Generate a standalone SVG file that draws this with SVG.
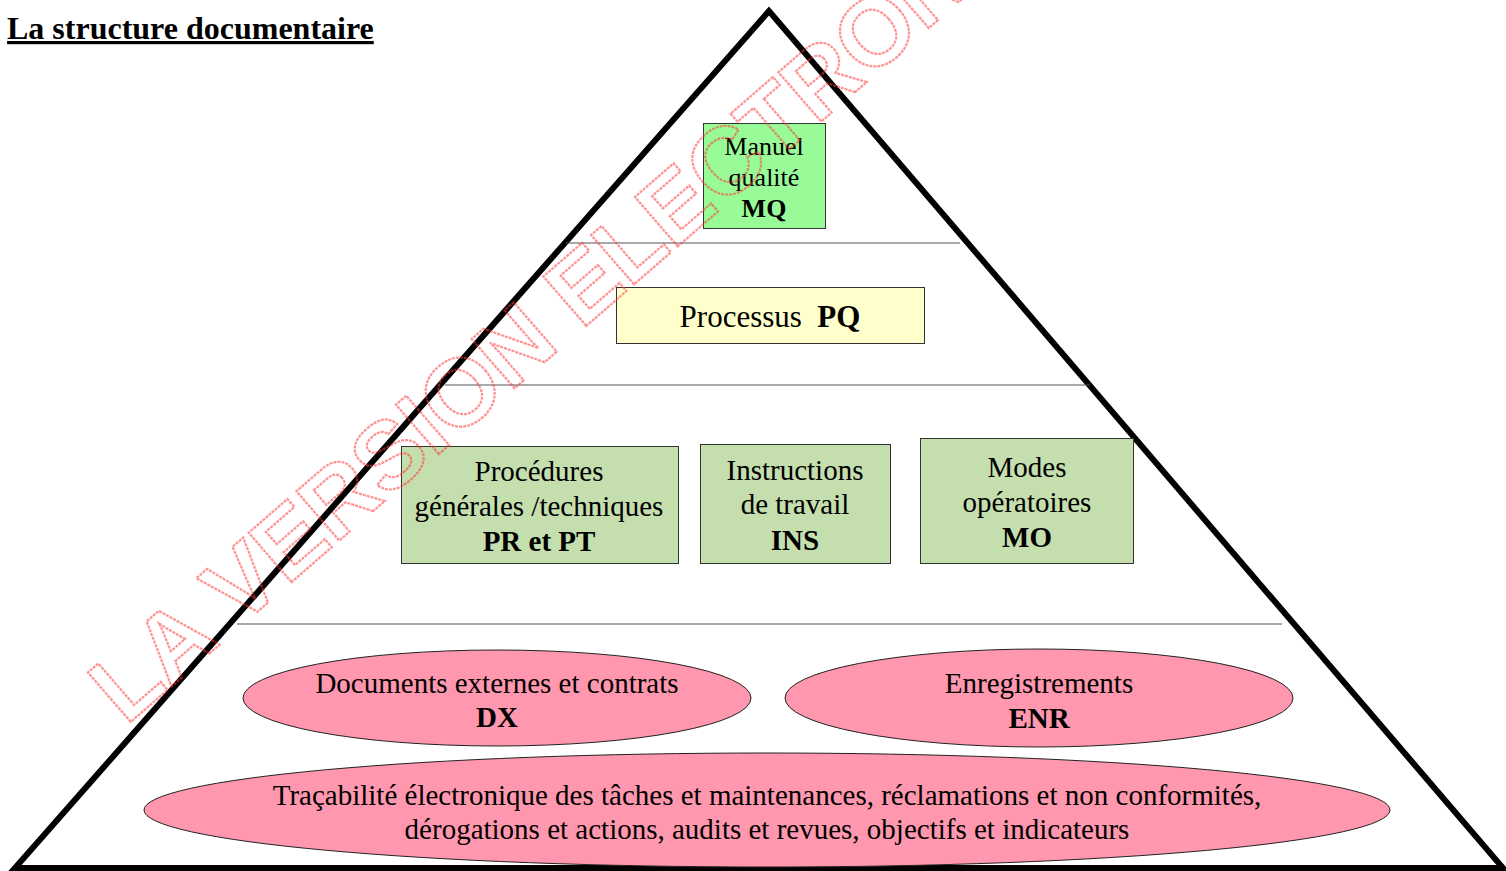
<svg xmlns="http://www.w3.org/2000/svg" width="1506" height="871" viewBox="0 0 1506 871">
<style>
.t{font-family:"Liberation Serif","Times New Roman",serif;fill:#000;text-anchor:middle}
.b{font-weight:bold}
.box{stroke:#333;stroke-width:1}
.ell{fill:#ff97ae;stroke:#222;stroke-width:1}
.sep{stroke:#555;stroke-width:1.2}
.wm{font-family:"Liberation Sans",Arial,sans-serif;font-size:95px;font-weight:bold;fill:none;stroke:#ff3b3b;stroke-width:2.2;stroke-dasharray:3 1;opacity:0.55}
</style>
<rect width="1506" height="871" fill="#fff"/>
<text x="7" y="39" font-family="Liberation Serif, Times New Roman, serif" font-size="32" font-weight="bold" text-decoration="underline">La structure documentaire</text>
<g id="structure">
<polygon points="769,11 15,868 1503,868" fill="none" stroke="#000" stroke-width="6" stroke-linejoin="miter"/>
<line class="sep" x1="566" y1="243" x2="960" y2="243"/>
<line class="sep" x1="445" y1="385" x2="1090" y2="385"/>
<line class="sep" x1="237" y1="624" x2="1282" y2="624"/>
</g>
<g id="connectors"></g>
<g id="mq">
<rect class="box" x="703.5" y="123.5" width="122" height="105" fill="#98fb98"/>
<text class="t" x="764" y="155" font-size="26">Manuel</text>
<text class="t" x="764" y="186" font-size="26">qualité</text>
<text class="t b" x="764" y="217" font-size="26">MQ</text>
</g>
<g id="pq">
<rect class="box" x="616.5" y="287.5" width="308" height="56" fill="#ffffcc"/>
<text class="t" x="770" y="327" font-size="31" xml:space="preserve">Processus  <tspan class="b">PQ</tspan></text>
</g>
<g id="pr">
<rect class="box" x="401.5" y="446.5" width="277" height="117" fill="#c5deae"/>
<text class="t" x="539" y="481" font-size="29">Procédures</text>
<text class="t" x="539" y="516" font-size="29">générales /techniques</text>
<text class="t b" x="539" y="551" font-size="29">PR et PT</text>
</g>
<g id="ins">
<rect class="box" x="700.5" y="444.5" width="190" height="119" fill="#c5deae"/>
<text class="t" x="795" y="480" font-size="29">Instructions</text>
<text class="t" x="795" y="514" font-size="29">de travail</text>
<text class="t b" x="795" y="550" font-size="29">INS</text>
</g>
<g id="mo">
<rect class="box" x="920.5" y="438.5" width="213" height="125" fill="#c5deae"/>
<text class="t" x="1027" y="477" font-size="29">Modes</text>
<text class="t" x="1027" y="512" font-size="29">opératoires</text>
<text class="t b" x="1027" y="547" font-size="29">MO</text>
</g>
<g id="dx">
<ellipse class="ell" cx="497" cy="698" rx="254" ry="48"/>
<text class="t" x="497" y="693" font-size="29">Documents externes et contrats</text>
<text class="t b" x="497" y="727" font-size="29">DX</text>
</g>
<g id="enr">
<ellipse class="ell" cx="1039" cy="698" rx="254" ry="49"/>
<text class="t" x="1039" y="693" font-size="29">Enregistrements</text>
<text class="t b" x="1039" y="728" font-size="29">ENR</text>
</g>
<g id="trace">
<ellipse class="ell" cx="767" cy="810" rx="623" ry="57"/>
<text class="t" x="767" y="805" font-size="29">Traçabilité électronique des tâches et maintenances, réclamations et non conformités,</text>
<text class="t" x="767" y="839" font-size="29">dérogations et actions, audits et revues, objectifs et indicateurs</text>
</g>
<text class="wm" x="126" y="726" transform="rotate(-41 126 726)">LA VERSION ELECTRONIQUE</text>
</svg>
